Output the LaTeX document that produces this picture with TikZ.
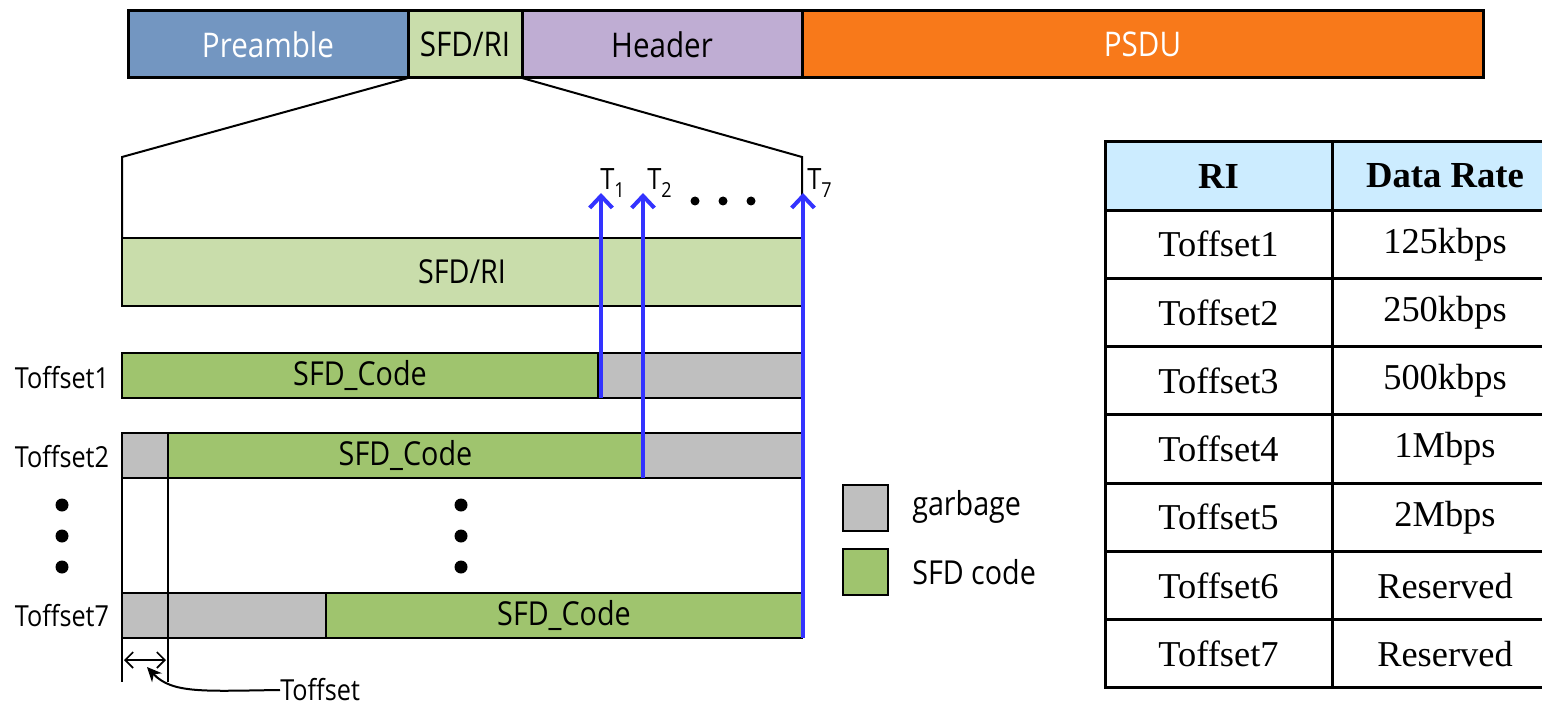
\documentclass[tikz,border=0pt]{standalone}
\usepackage{fontspec}
\setmainfont{Liberation Serif}
\newfontfamily\dfont[FakeStretch=0.87]{Open Sans}
\usetikzlibrary{arrows.meta}
\newdimen\pxu \pxu=0.75pt
\definecolor{preC}{HTML}{7396C1}
\definecolor{sfdC}{HTML}{C9DDAB}
\definecolor{hdrC}{HTML}{BFADD3}
\definecolor{psduC}{HTML}{F8791A}
\definecolor{codeC}{HTML}{9FC46E}
\definecolor{garbC}{HTML}{BFBFBF}
\definecolor{blueC}{HTML}{3333FF}
\definecolor{headC}{HTML}{CCECFF}
\tikzset{
  seg/.style={draw=black, line width=2.25pt, inner sep=0pt, outer sep=0pt,
    minimum height=67\pxu, anchor=north west, font=\dfont\fontsize{25.5}{28}\selectfont},
  bx/.style={draw=black, line width=1.5pt, inner sep=0pt, outer sep=0pt,
    minimum height=45\pxu, anchor=north west, font=\dfont\fontsize{24.75}{28}\selectfont},
  lbl/.style={inner sep=0pt, font=\dfont\fontsize{21.75}{24}\selectfont},
  leg/.style={inner sep=0pt, anchor=west, font=\dfont\fontsize{24.75}{28}\selectfont},
  tlab/.style={inner sep=0pt, anchor=base west, font=\dfont\fontsize{22}{24}\selectfont},
  cell/.style={draw=black, line width=2.25pt, inner sep=0pt, outer sep=0pt,
    minimum height=68.25\pxu, font=\fontsize{27.3}{30}\selectfont},
  blu/.style={draw=blueC, line width=3pt},
  bluar/.style={blu, -{Straight Barb[length=9pt,width=17pt]}},
  dot/.style={fill=black},
}
\newcommand{\Tsub}[1]{T\raisebox{-0.45ex}{\fontsize{15.5}{16}\selectfont #1}}
\newcommand{\cl}[1]{\raisebox{-3.5\pxu}{#1}}
\begin{document}
\begin{tikzpicture}[x=0.75pt,y=-0.75pt]
\useasboundingbox (0,0) rectangle (1542,706);
% top frame bar
\node[seg, fill=preC, text=white, minimum width=280\pxu] (pre) at (128,11) {Preamble};
\node[seg, fill=sfdC, minimum width=114\pxu] (sfd) at (408,11) {SFD/RI};
\node[seg, fill=hdrC, minimum width=280\pxu] (hdr) at (522,11) {Header};
\node[seg, fill=psduC, text=white, minimum width=681\pxu] (psdu) at (802,11) {PSDU};
% expanded SFD/RI
\node[bx, fill=sfdC, minimum width=680\pxu, minimum height=68\pxu] (big) at (122,238) {SFD/RI};
\coordinate (L) at (122,157);
\coordinate (R) at (802,157);
\draw[line width=1.5pt] (sfd.south west) -- (L) -- (big.north west);
\draw[line width=1.5pt] (sfd.south east) -- (R) -- (big.north east);
% rows
\node[bx, fill=codeC, minimum width=476\pxu] (r1g) at (122,353) {SFD\_Code};
\node[bx, fill=garbC, minimum width=204\pxu] (r1b) at (598,353) {};
\node[bx, fill=garbC, minimum width=46\pxu] (r2a) at (122,433) {};
\node[bx, fill=codeC, minimum width=475\pxu] (r2g) at (168,433) {SFD\_Code};
\node[bx, fill=garbC, minimum width=159\pxu] (r2b) at (643,433) {};
\node[bx, fill=garbC, minimum width=46\pxu] (r7a) at (122,593) {};
\node[bx, fill=garbC, minimum width=158\pxu] (r7b) at (168,593) {};
\node[bx, fill=codeC, minimum width=476\pxu] (r7g) at (326,593) {SFD\_Code};
\node[lbl] (l1) at (62,378) {Toffset1};
\node[lbl] (l2) at (62,457) {Toffset2};
\node[lbl] (l7) at (62,616) {Toffset7};
% vertical guide lines
\coordinate (g1) at (122,682);
\coordinate (g2) at (168,682);
\draw[line width=1.5pt] (r2a.south west) -- (r7a.north west);
\draw[line width=1.5pt] (r2a.south east) -- (r7a.north east);
\draw[line width=1.5pt] (r7a.south west) -- (g1);
\draw[line width=1.5pt] (r7a.south east) -- (g2);
% dots
\foreach \yy in {505,536,567} {
  \fill[dot] (62,\yy) circle (6.5);
  \fill[dot] (461,\yy) circle (6.5);
}
\foreach \xx in {695,723,751} { \fill[dot] (\xx,201) circle (4.5); }
% blue T markers
\coordinate (t1) at (601,193);
\coordinate (t2) at (643,193);
\coordinate (t7) at (803,193);
\coordinate (b1) at (601,398);
\draw[bluar] (b1) -- (t1);
\draw[bluar] (r2b.south west) -- (t2);
\draw[bluar] ([xshift=1\pxu]r7g.south east) -- (t7);
\node[tlab] (T1) at (600,190) {\Tsub{1}};
\node[tlab] (T2) at (647,190) {\Tsub{2}};
\node[tlab] (T7) at (807,190) {\Tsub{7}};
% Toffset annotation
\coordinate (a1) at (124,660);
\coordinate (a2) at (166,660);
\draw[line width=1.2pt, {Straight Barb[length=6pt,width=12pt]}-{Straight Barb[length=6pt,width=12pt]}] (a1) -- (a2);
\node[lbl, anchor=west] (toff) at (280,690) {Toffset};
\coordinate (tip) at (147,667);
\draw[line width=1.5pt, -{Stealth[length=11pt,width=10pt]}] (toff.west) .. controls (205,691) and (172,694) .. (tip);
% legend
\node[draw=black, line width=1.5pt, fill=garbC, minimum width=45\pxu, minimum height=46\pxu, inner sep=0pt, anchor=north west] (kg) at (842,484) {};
\node[draw=black, line width=1.5pt, fill=codeC, minimum width=45\pxu, minimum height=46\pxu, inner sep=0pt, anchor=north west] (kc) at (842,548) {};
\node[leg] (kgt) at (912,507) {garbage};
\node[leg] (kct) at (912,572) {SFD code};
% table
\node[cell, fill=headC, minimum width=227\pxu, font=\fontsize{27.5}{30}\selectfont\bfseries] (h1) at (1218.5,176.1) {\cl{RI}};
\node[cell, fill=headC, minimum width=226\pxu, font=\fontsize{27.5}{30}\selectfont\bfseries] (h2) at (1445,176.1) {\cl{Data Rate}};
\foreach \i/\a/\b in {1/Toffset1/125kbps,2/Toffset2/250kbps,3/Toffset3/500kbps,4/Toffset4/1Mbps,5/Toffset5/2Mbps,6/Toffset6/Reserved,7/Toffset7/Reserved} {
  \node[cell, minimum width=227\pxu] (c\i a) at (1218.5,176.1+68.25*\i) {\cl{\a}};
  \node[cell, minimum width=226\pxu] (c\i b) at (1445,176.1+68.25*\i) {\cl{\b}};
}
\end{tikzpicture}
\end{document}
